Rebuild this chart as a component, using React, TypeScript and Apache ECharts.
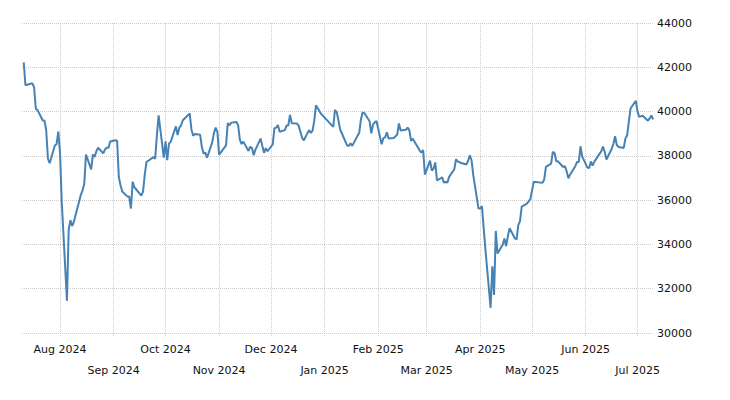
import React, { useEffect, useRef } from "react";
import * as echarts from "echarts";

// Trading days (Tokyo) and daily closes, Jul 2024 – Jul 2025
const days2024: string[] = [
  "2024-07-11","2024-07-12","2024-07-16","2024-07-17","2024-07-18","2024-07-19","2024-07-22","2024-07-23","2024-07-24","2024-07-25","2024-07-26","2024-07-29","2024-07-30","2024-07-31",
  "2024-08-01","2024-08-02","2024-08-05","2024-08-06","2024-08-07","2024-08-08","2024-08-09","2024-08-13","2024-08-14","2024-08-15","2024-08-16","2024-08-19","2024-08-20","2024-08-21","2024-08-22","2024-08-23","2024-08-26","2024-08-27","2024-08-28","2024-08-29","2024-08-30",
  "2024-09-02","2024-09-03","2024-09-04","2024-09-05","2024-09-06","2024-09-09","2024-09-10","2024-09-11","2024-09-12","2024-09-13","2024-09-17","2024-09-18","2024-09-19","2024-09-20","2024-09-24","2024-09-25","2024-09-26","2024-09-27","2024-09-30",
  "2024-10-01","2024-10-02","2024-10-03","2024-10-04","2024-10-07","2024-10-08","2024-10-09","2024-10-10","2024-10-11","2024-10-15","2024-10-16","2024-10-17","2024-10-18","2024-10-21","2024-10-22","2024-10-23","2024-10-24","2024-10-25","2024-10-28","2024-10-29","2024-10-30","2024-10-31",
  "2024-11-01","2024-11-05","2024-11-06","2024-11-07","2024-11-08","2024-11-11","2024-11-12","2024-11-13","2024-11-14","2024-11-15","2024-11-18","2024-11-19","2024-11-20","2024-11-21","2024-11-22","2024-11-25","2024-11-26","2024-11-27","2024-11-28","2024-11-29",
  "2024-12-02","2024-12-03","2024-12-04","2024-12-05","2024-12-06","2024-12-09","2024-12-10","2024-12-11","2024-12-12","2024-12-13","2024-12-16","2024-12-17","2024-12-18","2024-12-19","2024-12-20","2024-12-23","2024-12-24","2024-12-25","2024-12-26","2024-12-27","2024-12-30",
];
const closes2024: number[] = [
  42224, 41191, 41275, 41098, 40126, 40064, 39599, 39594, 39155, 37870, 37668, 38469, 38526, 39102,
  38126, 35910, 31458, 34675, 35090, 34831, 35025, 36233, 36443, 36727, 38063, 37389, 38063, 37951, 38211, 38364, 38110, 38289, 38372, 38363, 38648,
  38701, 38686, 37048, 36658, 36392, 36160, 36159, 35620, 36834, 36582, 36204, 36381, 37155, 37724, 37941, 37871, 38926, 39830, 37920,
  38652, 37809, 38553, 38636, 39333, 38938, 39278, 39381, 39606, 39911, 39181, 38912, 38982, 38955, 38412, 38105, 38144, 37914, 38606, 39028, 39278, 39081,
  38054, 38475, 39481, 39381, 39501, 39534, 39377, 38722, 38536, 38643, 38221, 38415, 38353, 38027, 38284, 38781, 38443, 38135, 38350, 38208,
  38514, 39249, 39277, 39396, 39092, 39161, 39368, 39373, 39850, 39471, 39458, 39365, 39082, 38814, 38702, 39161, 39037, 39131, 39569, 40282, 39895,
];
const days2025: string[] = [
  "2025-01-06","2025-01-07","2025-01-08","2025-01-09","2025-01-10","2025-01-14","2025-01-15","2025-01-16","2025-01-17","2025-01-20","2025-01-21","2025-01-22","2025-01-23","2025-01-24","2025-01-27","2025-01-28","2025-01-29","2025-01-30","2025-01-31",
  "2025-02-03","2025-02-04","2025-02-05","2025-02-06","2025-02-07","2025-02-10","2025-02-12","2025-02-13","2025-02-14","2025-02-17","2025-02-18","2025-02-19","2025-02-20","2025-02-21","2025-02-25","2025-02-26","2025-02-27","2025-02-28",
  "2025-03-03","2025-03-04","2025-03-05","2025-03-06","2025-03-07","2025-03-10","2025-03-11","2025-03-12","2025-03-13","2025-03-14","2025-03-17","2025-03-18","2025-03-19","2025-03-21","2025-03-24","2025-03-25","2025-03-26","2025-03-27","2025-03-28","2025-03-31",
  "2025-04-01","2025-04-02","2025-04-03","2025-04-04","2025-04-07","2025-04-08","2025-04-09","2025-04-10","2025-04-11","2025-04-14","2025-04-15","2025-04-16","2025-04-17","2025-04-18","2025-04-21","2025-04-22","2025-04-23","2025-04-24","2025-04-25","2025-04-28","2025-04-30",
  "2025-05-01","2025-05-02","2025-05-07","2025-05-08","2025-05-09","2025-05-12","2025-05-13","2025-05-14","2025-05-15","2025-05-16","2025-05-19","2025-05-20","2025-05-21","2025-05-22","2025-05-23","2025-05-26","2025-05-27","2025-05-28","2025-05-29","2025-05-30",
  "2025-06-02","2025-06-03","2025-06-04","2025-06-05","2025-06-06","2025-06-09","2025-06-10","2025-06-11","2025-06-12","2025-06-13","2025-06-16","2025-06-17","2025-06-18","2025-06-19","2025-06-20","2025-06-23","2025-06-24","2025-06-25","2025-06-26","2025-06-27","2025-06-30",
  "2025-07-01","2025-07-02","2025-07-03","2025-07-04","2025-07-07","2025-07-08","2025-07-09","2025-07-10",
];
const closes2025: number[] = [
  39307, 40083, 39981, 39605, 39191, 38475, 38445, 38573, 38451, 38903, 39028, 39647, 39959, 39932, 39566, 39017, 39415, 39514, 39573,
  38520, 38798, 38832, 39067, 38787, 38801, 38964, 39462, 39149, 39174, 39271, 39164, 38678, 38777, 38238, 38143, 38256, 37156,
  37785, 37331, 37418, 37705, 36887, 37028, 36793, 36820, 36790, 37053, 37396, 37846, 37752, 37677, 37608, 37780, 38028, 37800, 37120, 35618,
  35625, 35726, 34736, 33781, 31137, 33013, 31715, 34609, 33586, 33983, 34268, 33921, 34378, 34730, 34280, 34221, 34869, 35040, 35706, 35840, 36045,
  36452, 36831, 36780, 36929, 37504, 37645, 38184, 38128, 37756, 37754, 37499, 37530, 37299, 36986, 37160, 37532, 37724, 37723, 38433, 37965,
  37471, 37447, 37747, 37555, 37742, 38089, 38212, 38421, 38174, 37834, 38312, 38537, 38885, 38489, 38403, 38355, 38791, 38943, 39585, 40151, 40487,
  39987, 39763, 39786, 39811, 39588, 39689, 39822, 39646,
];

// Month ticks: first row and second row of the staggered x labels
const upperRowMonths: string[] = ["2024-08-01", "2024-10-01", "2024-12-01", "2025-02-01", "2025-04-01", "2025-06-01"];
const lowerRowMonths: string[] = ["2024-09-01", "2024-11-01", "2025-01-01", "2025-03-01", "2025-05-01", "2025-07-01"];
const yTicks = { min: 30000, max: 44000, step: 2000 };
const axisRange = { start: "2024-07-10", end: "2025-07-10" };

const MONTHS = ["Jan", "Feb", "Mar", "Apr", "May", "Jun", "Jul", "Aug", "Sep", "Oct", "Nov", "Dec"];

function toTime(s: string): number {
  const [y, m, d] = s.split("-").map(Number);
  return Date.UTC(y, m - 1, d);
}

export default function App() {
  const ref = useRef<HTMLDivElement>(null);
  useEffect(() => {
    document.body.style.margin = "0";
    if (!ref.current) return;
    const chart = echarts.init(ref.current, undefined, { renderer: "svg" });
    const days = days2024.concat(days2025);
    const closes = closes2024.concat(closes2025);
    const data = days.map((d, i) => [toTime(d), closes[i]]);
    const upper = upperRowMonths.map(toTime);
    const lower = lowerRowMonths.map(toTime);
    const allMonths = upper.concat(lower).sort((a, b) => a - b);
    const fmt = (v: number) => {
      const d = new Date(v);
      return `${MONTHS[d.getUTCMonth()]} ${d.getUTCFullYear()}`;
    };
    const labelFont = {
      fontFamily: "'DejaVu Sans', Verdana, sans-serif",
      fontSize: 11,
      color: "#111",
    };
    const xMin = toTime(axisRange.start);
    const xMax = toTime(axisRange.end) + 12 * 3600 * 1000;
    chart.setOption({
      animation: false,
      grid: { left: 22, right: 76, top: 23, bottom: 67, containLabel: false, outerBoundsMode: "none" },
      xAxis: [
        {
          type: "value",
          min: xMin,
          max: xMax,
          scale: true,
          axisLine: { show: false },
          axisTick: {
            show: true,
            length: 4,
            customValues: allMonths,
            lineStyle: { color: "#cccccc", type: "dotted", width: 1 },
          },
          splitLine: { show: true, lineStyle: { color: "#cccccc", type: "dotted", width: 1 } },
          axisLabel: { ...labelFont, margin: 11, customValues: upper, formatter: fmt },
        },
        {
          type: "value",
          position: "bottom",
          min: xMin,
          max: xMax,
          scale: true,
          axisLine: { show: false },
          axisTick: { show: false },
          splitLine: { show: false },
          axisLabel: { ...labelFont, margin: 32, customValues: lower, formatter: fmt },
        },
      ],
      yAxis: {
        type: "value",
        position: "right",
        min: yTicks.min,
        max: yTicks.max,
        interval: yTicks.step,
        axisLine: { show: false },
        axisTick: { show: false },
        splitLine: { show: true, lineStyle: { color: "#cccccc", type: "dotted", width: 1 } },
        axisLabel: { ...labelFont, margin: 3, formatter: (v: number) => String(v) },
      },
      series: [
        {
          type: "line",
          xAxisIndex: 0,
          data,
          showSymbol: false,
          symbol: "none",
          lineStyle: { color: "#4682b4", width: 2 },
          itemStyle: { color: "#4682b4" },
        },
      ],
    });
    return () => chart.dispose();
  }, []);
  return <div ref={ref} style={{ width: 730, height: 400 }} />;
}
